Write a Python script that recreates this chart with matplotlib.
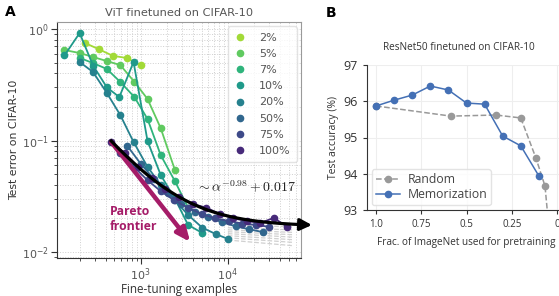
import numpy as np
import matplotlib
matplotlib.use("Agg")
import matplotlib.pyplot as plt

# ---------------- data: panel A ----------------
labels_A = ["2%", "5%", "7%", "10%", "20%", "50%", "75%", "100%"]
x_2 = [230, 330, 480, 690, 1000]
y_2 = [0.75, 0.66, 0.575, 0.55, 0.475]
x_5 = [134, 200, 285, 410, 585, 850, 1200, 1700, 2480]
y_5 = [0.648, 0.609, 0.561, 0.516, 0.475, 0.335, 0.236, 0.129, 0.054]
x_7 = [200, 285, 410, 585, 850, 1200, 1700, 2480, 3500]
y_7 = [0.55, 0.495, 0.438, 0.335, 0.245, 0.156, 0.074, 0.043, 0.025]
x_10 = [134, 200, 285, 410, 570, 830, 1200, 1700, 2480, 3500, 5100]
y_10 = [0.58, 0.92, 0.47, 0.30, 0.245, 0.506, 0.099, 0.049, 0.030, 0.0175, 0.0148]
x_20 = [200, 285, 410, 585, 830, 1200, 1700, 2480, 3500, 5100, 7250, 10000]
y_20 = [0.506, 0.411, 0.267, 0.169, 0.097, 0.058, 0.040, 0.029, 0.0215, 0.0165, 0.0145, 0.0131]
x_50 = [700, 1000, 1430, 2050, 2930, 4190, 5990, 8570, 12250, 17500, 25000]
y_50 = [0.09, 0.062, 0.045, 0.034, 0.027, 0.023, 0.0205, 0.0185, 0.017, 0.016, 0.0151]
x_75 = [585, 837, 1200, 1710, 2440, 3490, 5000, 7150, 10200, 14600, 20900, 29900]
y_75 = [0.078, 0.058, 0.044, 0.035, 0.029, 0.025, 0.022, 0.020, 0.019, 0.018, 0.0175, 0.0168]
x_100 = [460, 658, 941, 1345, 1924, 2750, 3935, 5627, 8046, 11506, 16453, 23528, 33645, 48112]
y_100 = [0.097, 0.077, 0.058, 0.046, 0.037, 0.031, 0.027, 0.025, 0.022, 0.020, 0.019, 0.0182, 0.0202, 0.0168]

series_x = [x_2, x_5, x_7, x_10, x_20, x_50, x_75, x_100]
series_y = [y_2, y_5, y_7, y_10, y_20, y_50, y_75, y_100]

# gray dashed extrapolations
gray_x = [10000, 55000]
gray_start = [0.0175, 0.0165, 0.0158, 0.0152, 0.0146, 0.0140, 0.0134, 0.0128]
gray_end = [0.0168, 0.0158, 0.0150, 0.0143, 0.0136, 0.0129, 0.0122, 0.0114]

# power-law fit
fit_a, fit_exp, fit_c = 33.4, -0.98, 0.017
fit_x_start, fit_x_end, fit_x_tip = 460, 72000, 92000

# pareto arrow
pareto_start = (460, 0.097)
pareto_end = (3700, 0.0123)

# ---------------- data: panel B ----------------
mem_x = [1.0, 0.9, 0.8, 0.7, 0.6, 0.5, 0.4, 0.3, 0.2, 0.1]
mem_y = [95.87, 96.03, 96.17, 96.42, 96.31, 95.95, 95.92, 95.04, 94.77, 93.94]
rand_x = [1.0, 0.586, 0.337, 0.2, 0.116, 0.066, 0.039]
rand_y = [95.87, 95.59, 95.62, 95.54, 94.43, 93.66, 92.2]
xticks_B = [1.0, 0.75, 0.5, 0.25, 0.0]
xticklabels_B = ["1.0", "0.75", "0.5", "0.25", "0"]
yticks_B = [93, 94, 95, 96, 97]

# ---------------- figure ----------------
W, H = 559, 296
fig = plt.figure(figsize=(W / 100, H / 100), dpi=100)

# ---- panel A ----
axA = fig.add_axes([57 / W, 1 - 258 / H, (301 - 57) / W, (258 - 22) / H])
axA.set_xscale("log")
axA.set_yscale("log")
axA.set_xlim(110, 69000)
axA.set_ylim(10 ** -2.054, 10 ** 0.063)
axA.grid(True, which="both", ls=":", color="#cfcfcf", lw=0.7)
axA.set_axisbelow(True)

colors = plt.cm.viridis(np.linspace(0.86, 0.12, 8))

for i in range(len(gray_start)):
    axA.plot(gray_x, [gray_start[i], gray_end[i]], ls="--", color="#d0d0d0", lw=0.9, zorder=1)

for xs, ys, c, lab in zip(series_x, series_y, colors, labels_A):
    axA.plot(xs, ys, "-o", color=c, ms=4.5, lw=1.3, label=lab, zorder=3)

fx = np.logspace(np.log10(fit_x_start), np.log10(fit_x_end), 200)
axA.plot(fx, fit_a * fx ** fit_exp + fit_c, color="black", lw=2.3, zorder=5, clip_on=False)
axA.annotate("", xy=(fit_x_tip, fit_a * fit_x_tip ** fit_exp + fit_c),
             xytext=(fit_x_end, fit_a * fit_x_end ** fit_exp + fit_c),
             arrowprops=dict(arrowstyle="-|>,head_width=0.35,head_length=0.7", color="black",
                             lw=2.3, shrinkA=0, shrinkB=0),
             annotation_clip=False, zorder=6)

mag = "#a51c68"
axA.annotate("", xy=pareto_end, xytext=pareto_start,
             arrowprops=dict(arrowstyle="-|>,head_width=0.35,head_length=0.8", color=mag,
                             lw=3.2, shrinkA=0, shrinkB=0), zorder=4)
axA.text(448, 0.0262, "Pareto\nfrontier", color=mag, fontsize=8.8, fontweight="bold",
         family="Open Sans", ha="left", va="top", linespacing=1.2)
axA.text(4350, 0.0342, r"$\sim\alpha^{-0.98}+0.017$", math_fontfamily="cm", fontsize=10,
         ha="left", va="baseline", color="#222222")

for s in ["left", "bottom"]:
    axA.spines[s].set_color("#333333")
for s in ["top", "right"]:
    axA.spines[s].set_color("#9a9a9a")
axA.tick_params(which="both", colors="#333333", labelcolor="#555555", labelsize=8, pad=2)
axA.tick_params(which="major", length=4)
axA.tick_params(which="minor", length=2.5)
axA.set_title("ViT finetuned on CIFAR-10", fontsize=8.2, color="#555555", pad=4)
axA.set_ylabel("Test error on CIFAR-10", fontsize=7.8, color="#333333", labelpad=2)
axA.set_xlabel("Fine-tuning examples", fontsize=8.4, family="Open Sans", color="#333333", labelpad=0)

leg = axA.legend(loc="upper right", fontsize=8, handlelength=1.0, handletextpad=1.2,
                 labelspacing=0.56, borderpad=0.55, frameon=True, fancybox=True,
                 borderaxespad=0.4)
for h in leg.legend_handles:
    h.set_linestyle("")
for t in leg.get_texts():
    t.set_color("#555555")
leg.get_frame().set_edgecolor("#dddddd")

fig.text(5 / W, 1 - 12 / H, "A", fontsize=10, fontweight="bold", va="center", ha="left")

# ---- panel B ----
axB = fig.add_axes([367 / W, 1 - 210 / H, (566 - 367) / W, (210 - 65) / H])
axB.set_xlim(1.05, -0.05)
axB.set_ylim(93, 97)
axB.grid(True, color="#eeeeee", lw=0.8)
axB.set_axisbelow(True)
axB.plot(rand_x, rand_y, "--o", color="#999999", ms=4.5, lw=1.1, label="Random", zorder=3)
axB.plot(mem_x, mem_y, "-o", color="#4470b5", ms=4.5, lw=1.1, label="Memorization", zorder=4)
axB.set_xticks(xticks_B)
axB.set_xticklabels(xticklabels_B)
axB.set_yticks(yticks_B)
for s in ["top", "right"]:
    axB.spines[s].set_visible(False)
for s in ["left", "bottom"]:
    axB.spines[s].set_color("#333333")
axB.tick_params(axis="x", labelsize=7, colors="#333333", length=3)
axB.tick_params(axis="y", labelsize=9, colors="#333333", length=3)
for lab in axB.get_xticklabels() + axB.get_yticklabels():
    lab.set_family("Open Sans")
axB.set_title("ResNet50 finetuned on CIFAR-10", fontsize=7.2, family="Open Sans",
              color="#333333", pad=11, x=0.46)
axB.set_ylabel("Test accuracy (%)", fontsize=7.5, family="Open Sans", color="#333333", labelpad=3)
axB.set_xlabel("Frac. of ImageNet used for pretraining", fontsize=7.2, family="Open Sans",
               color="#333333", labelpad=5)
legB = axB.legend(loc="lower left", prop={"family": "Open Sans", "size": 8.8}, handlelength=2.0,
                  borderpad=0.3, labelspacing=0.2, handletextpad=0.6, borderaxespad=0.4,
                  frameon=True)
legB.get_frame().set_edgecolor("#dddddd")
for t in legB.get_texts():
    t.set_color("#444444")

fig.text(326 / W, 1 - 13 / H, "B", fontsize=10, fontweight="bold", va="center", ha="left")

fig.savefig("out.png", dpi=100)
